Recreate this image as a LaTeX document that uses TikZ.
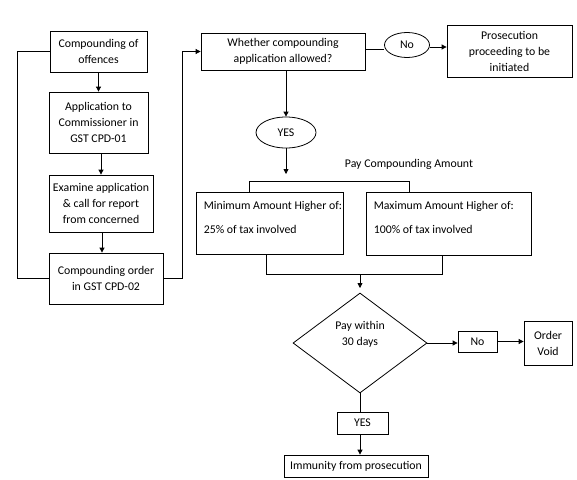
\documentclass[tikz,border=0pt]{standalone}
\usepackage{fontspec}
\setmainfont{Carlito}
\usetikzlibrary{arrows.meta,shapes.geometric,calc}
\tikzset{
  fnt/.style={font=\fontsize{11.8}{16}\selectfont},
  box/.style={draw, line width=0.8pt, inner sep=1pt, align=center, fnt},
  oval/.style={draw, ellipse, line width=0.8pt, inner sep=0pt, fnt},
  ln/.style={line width=0.8pt},
  arr/.style={line width=0.8pt, -{Triangle[length=5pt,width=5pt]}},
  txt/.style={inner sep=0pt, align=left, fnt}
}
\begin{document}
\begin{tikzpicture}[x=1pt,y=-1pt]
\path[use as bounding box, fill=white] (0,0) rectangle (577,479);
% left column
\node[box, minimum width=97pt, minimum height=41pt] (c1) at (98.5,51.5) {Compounding of\\offences};
\node[box, minimum width=99pt, minimum height=61pt] (c2) at (98.5,122.5) {Application to\\Commissioner in\\GST CPD-01};
\node[box, minimum width=104pt, minimum height=57pt] (c3) at (101,203.5) {Examine application\\\& call for report\\from concerned};
\node[box, minimum width=114pt, minimum height=51pt] (c4) at (106,278.5) {Compounding order\\in GST CPD-02};
\coordinate (a2) at (101,153);
\coordinate (a3) at (102,232);
\draw[arr] (c1.south) -- (c1.south |- c2.north);
\draw[arr] (a2) -- (a2 |- c3.north);
\draw[arr] (a3) -- (a3 |- c4.north);
\draw[ln] (c4.west) -- ++(-31,0) |- (c1.west);
% top row
\node[box, minimum width=164pt, minimum height=37pt] (q) at (283,51.5) {Whether compounding\\application allowed?};
\draw[arr] (c4.east) -- ++(19,0) |- (q.west);
\node[oval, minimum width=45pt, minimum height=25pt] (noE) at (407,45) {No};
\node[box, minimum width=125pt, minimum height=52pt] (pros) at (509.5,51) {Prosecution\\proceeding to be\\initiated};
\draw[ln] ([yshift=2.5pt]q.east) -- ([yshift=-4pt]noE.west);
\draw[arr] ([yshift=-2pt]noE.east) -- ([yshift=-2pt]noE.east -| pros.west);
% yes
\node[oval, minimum width=60pt, minimum height=31pt] (yes) at (286,132.5) {YES};
\draw[arr] (yes.north |- q.south) -- (yes.north);
\coordinate (ya) at (286,174);
\draw[arr] (yes.south) -- (ya);
\node[txt] (pay) at (409,164) {Pay Compounding Amount};
% amount boxes
\node[draw, line width=0.8pt, minimum width=147pt, minimum height=62pt] (min) at (269.5,223) {};
\node[draw, line width=0.8pt, minimum width=165pt, minimum height=63pt] (max) at (448.5,223.5) {};
\node[txt, anchor=north west] (mint) at ($(min.north west)+(8,10)$) {Minimum Amount Higher of:\\[8pt]25\% of tax involved};
\node[txt, anchor=north west] (maxt) at ($(max.north west)+(8,10)$) {Maximum Amount Higher of:\\[8pt]100\% of tax involved};
\draw[ln] ($(min.north)+(-20.5,0)$) -- ++(0,-10) -| ($(max.north)+(-39.5,0)$);
\draw[ln] ($(min.south)+(-3.5,0)$) -- ++(0,20) -| ($(max.south)+(-6.5,0)$);
\coordinate (bm) at (360,274);
% diamond
\node[draw, diamond, line width=0.8pt, minimum width=134pt, minimum height=100pt, inner sep=0pt, align=center, fnt] (d) at (360,343) {Pay within\\30 days\\[4pt]};
\draw[arr] (bm) -- ++(0,14);
\node[box, minimum width=39pt, minimum height=21pt] (no2) at (477.5,341.5) {No};
\node[box, minimum width=48pt, minimum height=44pt] (void) at (548,343) {Order\\Void};
\draw[arr] (d.east) -- (d.east -| no2.west);
\draw[arr] (no2.east) -- (no2.east -| void.west);
\node[box, minimum width=51pt, minimum height=22pt] (yes2) at (362.5,423) {YES};
\node[box, minimum width=144pt, minimum height=22pt] (imm) at (356,466) {Immunity from prosecution};
\draw[ln] (d.south) -- (d.south |- yes2.north);
\draw[arr] (d.south |- yes2.south) -- (d.south |- imm.north);
\end{tikzpicture}
\end{document}
